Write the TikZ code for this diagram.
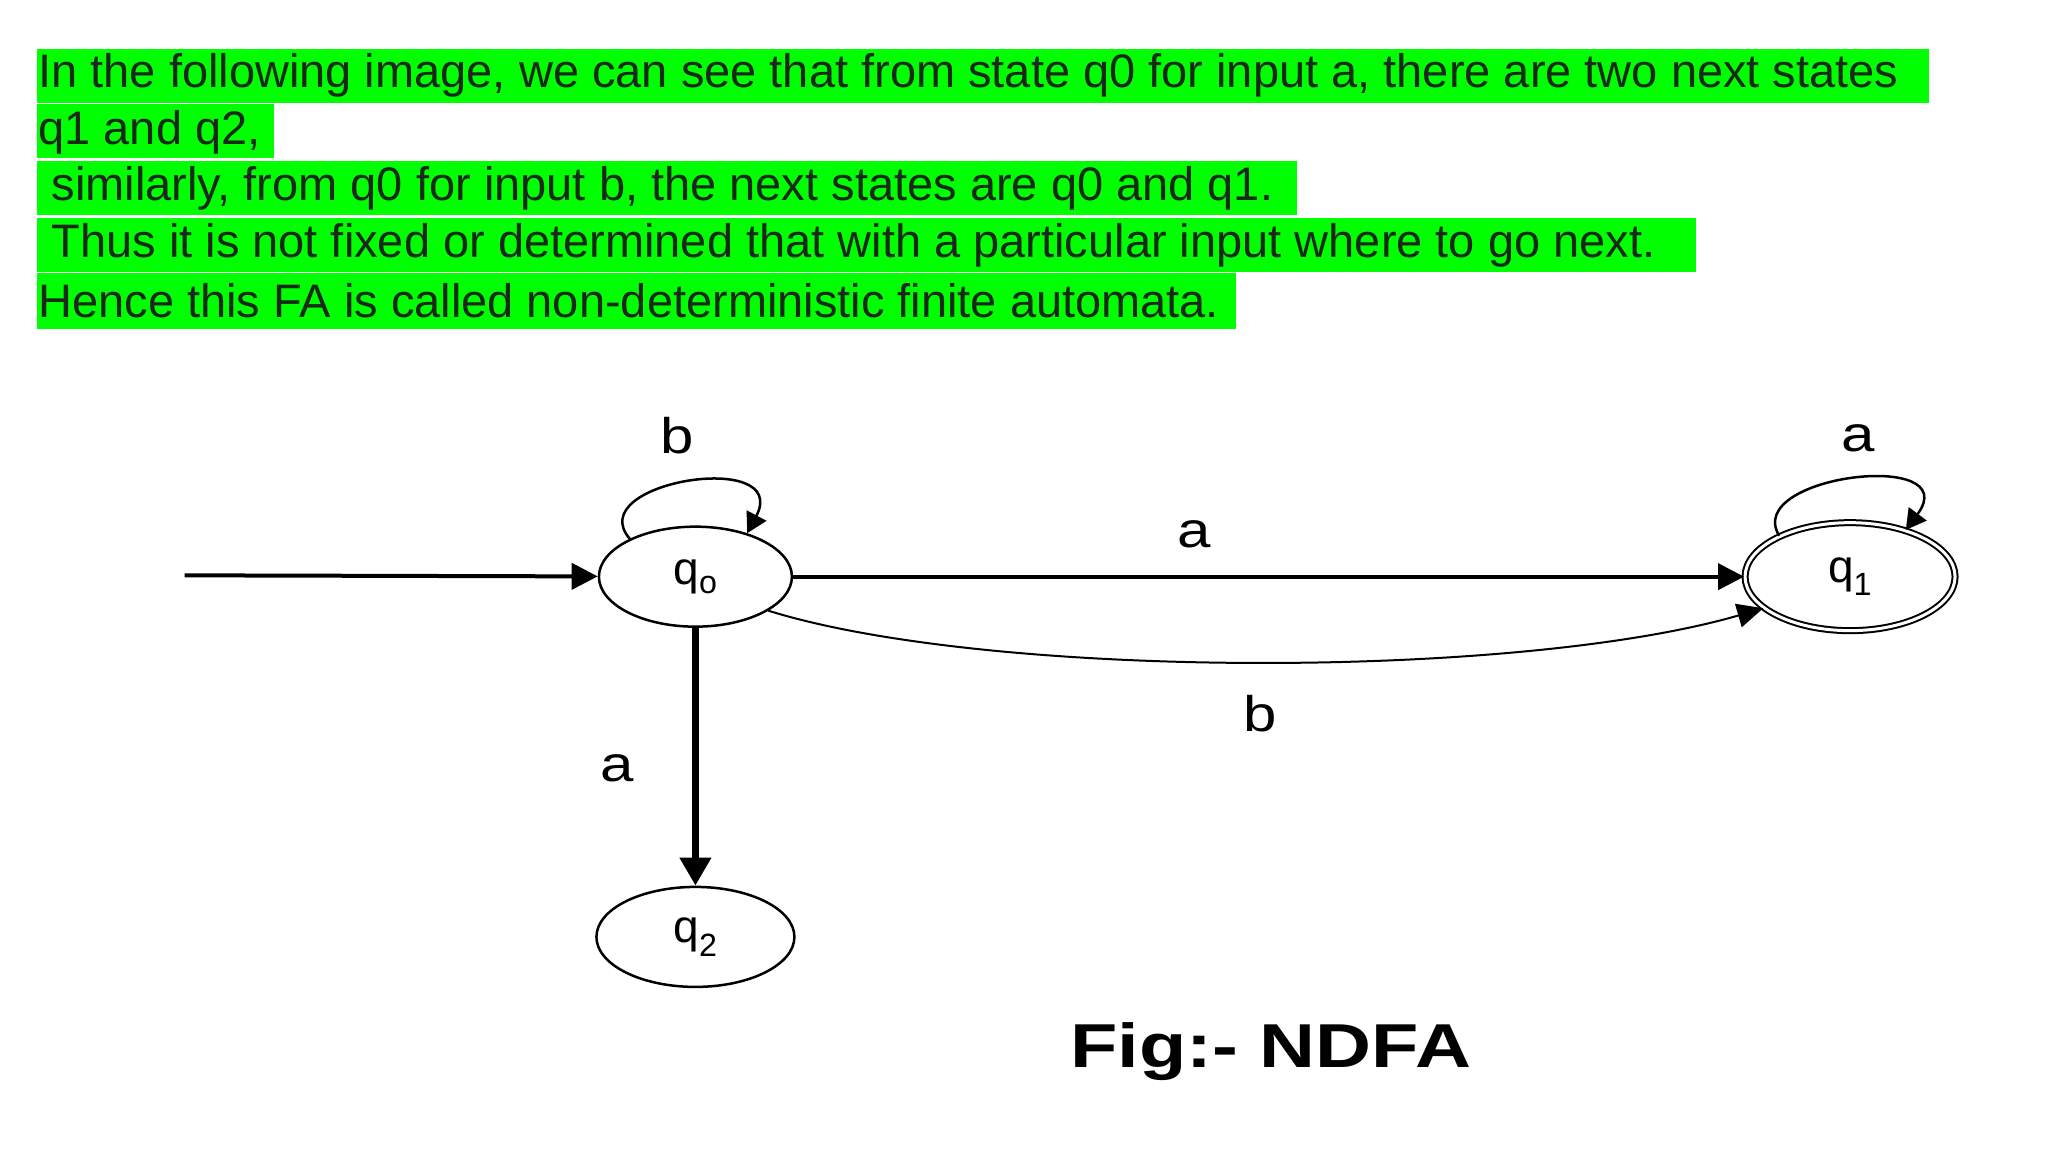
\documentclass[tikz,border=0pt]{standalone}
\usepackage{fontspec}
\setmainfont{Liberation Sans}
\usetikzlibrary{arrows.meta,shapes.geometric}
\definecolor{hl}{RGB}{0,255,0}
\definecolor{txt}{RGB}{25,40,25}
\begin{document}
\begin{tikzpicture}[x=1.3196pt,y=-1.3196pt,
  lab/.style={font=\fontsize{50}{50}\selectfont,xscale=1.2},
  sl/.style={font=\fontsize{46}{46}\selectfont},
  para/.style={anchor=west,inner sep=0pt,font=\fontsize{47}{50}\selectfont,text=txt},
  arr/.style={-{Triangle[length=26pt,width=26pt]},line width=4pt}]
\useasboundingbox (0,0) rectangle (1552,873);
\fill[hl] (28,37) rectangle (1462,78);
\fill[hl] (28,79) rectangle (208,120);
\fill[hl] (28,122) rectangle (983,163);
\fill[hl] (28,165) rectangle (1285,206);
\fill[hl] (28,207) rectangle (937,249);
\node[para] (l1) at (29,57) {In the following image, we can see that from state q0 for input a, there are two next states};
\node[para] (l2) at (29,100) {q1 and q2,};
\node[para] (l3) at (29,143) {\ similarly, from q0 for input b, the next states are q0 and q1.};
\node[para] (l4) at (29,186) {\ Thus it is not fixed or determined that with a particular input where to go next.};
\node[para] (l5) at (29,228) {Hence this FA is called non-deterministic finite automata.};

\node[ellipse,draw,line width=2.5pt,minimum width=193pt,minimum height=100pt,sl] (q0) at (527,437) {q\textsubscript{o}};
\node[ellipse,draw,line width=2.5pt,minimum width=198pt,minimum height=100pt,sl] (q2) at (527,710) {q\textsubscript{2}};
\node[ellipse,draw,line width=2pt,double,double distance=3pt,minimum width=210pt,minimum height=108pt,sl] (q1) at (1402,437) {q\textsubscript{1}};
\coordinate (start) at (140,436);
\draw[arr] (start) -- (q0);
\draw[arr] (q0) -- (q1);
\draw[-{Triangle[length=26pt,width=24pt]},line width=2pt] (q0.-25) .. controls (750,515) and (1150,515) .. (q1.200);
\draw[-{Triangle[length=28pt,width=30pt]},line width=7pt] (q0) -- (q2);
\draw[-{Triangle[length=20pt,width=22pt]},line width=2.5pt] (q0.150) .. controls (440,365) and (600,340) .. (q0.40);
\draw[-{Triangle[length=20pt,width=22pt]},line width=2.5pt] (q1.150) .. controls (1320,360) and (1490,340) .. (q1.40);
\node[lab] (la1) at (905,405) {a};
\node[lab] (lb1) at (955,541) {b};
\node[lab] (la2) at (468,582) {a};
\node[lab] (lb0) at (513,330) {b};
\node[lab] (la3) at (1408,332) {a};
\node[font=\bfseries\fontsize{62}{62}\selectfont,xscale=1.25] (cap) at (963,797) {Fig:- NDFA};
\end{tikzpicture}
\end{document}
